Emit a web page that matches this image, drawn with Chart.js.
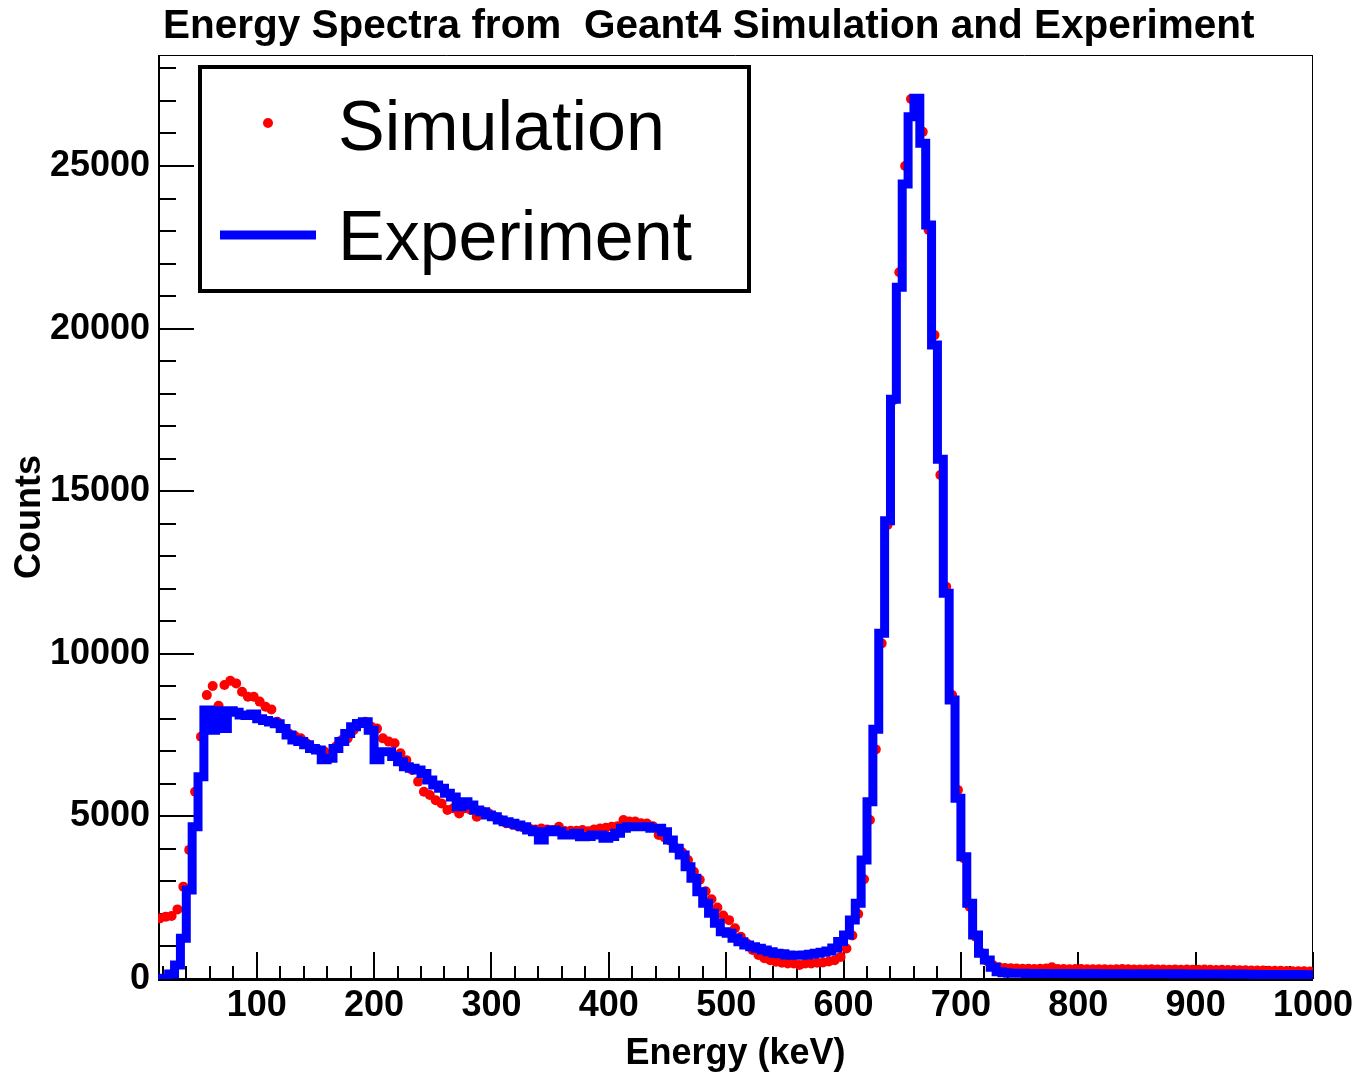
<!DOCTYPE html>
<html>
<head>
<meta charset="utf-8">
<script src="https://cdn.jsdelivr.net/npm/chart.js@4.4.1/dist/chart.umd.min.js"></script>
<style>
  html, body { margin: 0; padding: 0; background: #fff; }
  #wrap { width: 1356px; height: 1073px; }
</style>
</head>
<body>
<div id="wrap"><canvas id="myChart" width="1356" height="1073"></canvas></div>
<script>
// histogram binning (keV)
var binStart = 15;
var binWidth = 5;

// simulation counts, one per 5 keV bin starting at 15 keV
var simCounts = [
  1865, 1917, 1940, 2140, 2840, 3970, 5760, 7450, 8730, 9010,
  8400, 9040, 9170, 9090, 8835, 8680, 8680, 8530, 8370, 8290,
  7910, 7710, 7550, 7470, 7400, 7250, 7090, 7040, 7000, 6900,
  7150, 7350, 7400, 7650, 7850, 7910, 7760, 7700, 7400, 7300,
  7250, 6940, 6730, 6430, 6070, 5760, 5660, 5500, 5400, 5200,
  5250, 5090, 5250, 5200, 4990, 5150, 5100, 4990, 4900, 4790,
  4750, 4700, 4650, 4630, 4600, 4630, 4600, 4580, 4680, 4550,
  4560, 4560, 4580, 4540, 4600, 4630, 4650, 4680, 4700, 4890,
  4840, 4840, 4790, 4780, 4700, 4430, 4350, 4250, 4020, 3900,
  3660, 3300, 3050, 2700, 2450, 2200, 1950, 1810, 1560, 1300,
  1100, 890, 740, 640, 580, 530, 500, 480, 480, 430,
  480, 480, 500, 510, 540, 580, 680, 940, 1340, 2000,
  3065, 4890, 7060, 10320, 13960, 17800, 21730, 25000, 27060, 26900,
  26050, 23030, 19800, 15500, 12060, 8730, 5810, 3710, 2220, 1300,
  800, 550, 420, 360, 340, 330,
  320, 315, 318, 310, 312, 320, 360, 310, 305, 300,
  305, 310, 300, 298, 302, 300, 295, 300, 305, 298,
  295, 290, 295, 300, 292, 290, 288, 295, 285, 290,
  288, 285, 290, 282, 280, 285, 278, 275, 270, 268,
  265, 260, 262, 255, 250, 252, 245, 240, 238, 235,
  230
];

// experiment counts, same binning
var expCounts = [
  20, 20, 150, 430, 1250, 2740, 4680, 6220, 8270, 7650,
  8250, 7700, 8250, 8200, 8120, 8100, 8150, 8000, 7950, 7900,
  7850, 7700, 7500, 7350, 7300, 7200, 7090, 7040, 6740, 6790,
  7090, 7300, 7550, 7760, 7860, 7910, 7650, 6740, 6990, 6990,
  6840, 6680, 6530, 6480, 6430, 6320, 6120, 5965, 5863, 5709,
  5600, 5300, 5450, 5350, 5200, 5145, 5043, 4991, 4889, 4838,
  4786, 4735, 4684, 4581, 4530, 4274, 4530, 4581, 4530, 4428,
  4428, 4479, 4376, 4380, 4430, 4430, 4325, 4380, 4479, 4633,
  4684, 4684, 4684, 4684, 4633, 4633, 4530, 4274, 4018, 3813,
  3454, 3095, 2685, 2327, 2019, 1711, 1455, 1404, 1250, 1148,
  1045, 994, 943, 891, 840, 789, 780, 738, 730, 730,
  735, 760, 789, 820, 860, 950, 1150, 1353, 1814, 2327,
  3659, 5453, 7677, 10629, 14093, 17824, 21269, 24446, 26517, 27080,
  25697, 23185, 19495, 15980, 11859, 8579, 5555, 3761, 2327, 1353,
  789, 585, 359, 226, 190, 180,
  175, 175, 172, 170, 172, 170, 168, 170, 168, 165,
  168, 165, 165, 168, 165, 163, 165, 162, 165, 160,
  162, 160, 160, 162, 158, 160, 158, 155, 158, 155,
  155, 152, 155, 150, 152, 150, 150, 148, 150, 145,
  145, 140, 142, 140, 138, 140, 135, 138, 135, 132,
  130
];

var xTickLabels = [100, 200, 300, 400, 500, 600, 700, 800, 900, 1000];
var yTickLabels = [0, 5000, 10000, 15000, 20000, 25000];

var titleText = "Energy Spectra from  Geant4 Simulation and Experiment";

var simPoints = simCounts.map(function (v, i) {
  return { x: binStart + binWidth * (i + 0.5), y: v };
});
var expPoints = expCounts.map(function (v, i) {
  return { x: binStart + binWidth * i, y: v };
});
expPoints.push({ x: binStart + binWidth * expCounts.length, y: expCounts[expCounts.length - 1] });

var boldFont = { family: "'Liberation Sans', Arial, sans-serif", size: 36, weight: "bold" };

function plainLabel(v) { return String(v); }

// ROOT-like frame with ticks pointing inward
var framePlugin = {
  id: "rootFrame",
  beforeDatasetsDraw: function (chart) {
    var ctx = chart.ctx, a = chart.chartArea;
    var xs = chart.scales.x, ys = chart.scales.y;
    ctx.save();
    ctx.strokeStyle = "#000";
    ctx.lineWidth = 1;
    ctx.beginPath();
    ctx.moveTo(a.left, a.top + 0.5); ctx.lineTo(a.right, a.top + 0.5);
    ctx.moveTo(a.right - 0.5, a.top); ctx.lineTo(a.right - 0.5, a.bottom);
    ctx.stroke();

    ctx.lineWidth = 2;
    ctx.beginPath();
    for (var v = 0; v <= ys.max; v += 1000) {
      var y = Math.round(ys.getPixelForValue(v));
      var len = v % 5000 === 0 ? 36 : 18;
      ctx.moveTo(a.left, y); ctx.lineTo(a.left + len, y);
    }
    for (var e = 20; e <= 1000; e += 20) {
      var x = Math.round(xs.getPixelForValue(e));
      var l = e % 100 === 0 ? 27 : 13;
      ctx.moveTo(x, a.bottom); ctx.lineTo(x, a.bottom - l);
    }
    ctx.stroke();

    ctx.beginPath();
    ctx.moveTo(a.left + 1, a.top); ctx.lineTo(a.left + 1, a.bottom);
    ctx.stroke();
    ctx.lineWidth = 3;
    ctx.beginPath();
    ctx.moveTo(a.left, a.bottom + 0.5); ctx.lineTo(a.right, a.bottom + 0.5);
    ctx.stroke();
    ctx.restore();
  },
  afterDraw: function (chart) {
    var ctx = chart.ctx;
    var ds = chart.data.datasets;
    ctx.save();
    // title
    ctx.fillStyle = "#000";
    ctx.font = "bold 40.5px 'Liberation Sans', Arial, sans-serif";
    ctx.textAlign = "left";
    ctx.textBaseline = "alphabetic";
    ctx.fillText(titleText, 163, 38);

    // legend box
    ctx.fillStyle = "#fff";
    ctx.fillRect(200, 67, 549, 224);
    ctx.strokeStyle = "#000";
    ctx.lineWidth = 4;
    ctx.strokeRect(200, 67, 549, 224);

    ctx.fillStyle = ds[0].pointBackgroundColor;
    ctx.beginPath();
    ctx.arc(268, 123, 5, 0, Math.PI * 2);
    ctx.fill();

    ctx.strokeStyle = ds[1].borderColor;
    ctx.lineWidth = 9;
    ctx.beginPath();
    ctx.moveTo(220, 235); ctx.lineTo(316, 235);
    ctx.stroke();

    ctx.fillStyle = "#000";
    ctx.font = "70px 'Liberation Sans', Arial, sans-serif";
    ctx.fillText(ds[0].label, 338, 150);
    ctx.fillText(ds[1].label, 338, 260);
    ctx.restore();
  }
};

var ctx = document.getElementById("myChart").getContext("2d");
var myChart = new Chart(ctx, {
  type: "line",
  data: {
    datasets: [
      {
        label: "Simulation",
        data: simPoints,
        showLine: false,
        pointRadius: 5,
        pointBackgroundColor: "#ff0000",
        pointBorderWidth: 0,
        pointBorderColor: "#ff0000",
        order: 1
      },
      {
        label: "Experiment",
        data: expPoints,
        borderColor: "#0000ff",
        borderWidth: 9,
        stepped: true,
        pointRadius: 0,
        fill: false,
        borderJoinStyle: "miter",
        borderCapStyle: "butt",
        order: 0
      }
    ]
  },
  options: {
    responsive: false,
    devicePixelRatio: 1,
    animation: false,
    layout: { padding: { left: 0, top: 55, right: 43, bottom: 0 } },
    plugins: {
      legend: { display: false },
      tooltip: { enabled: false },
      title: { display: false }
    },
    scales: {
      x: {
        type: "linear",
        min: 15.9,
        max: 1000,
        afterBuildTicks: function (s) {
          s.ticks = xTickLabels.map(function (v) { return { value: v }; });
        },
        afterFit: function (s) {
          s.height = 94;
          s.paddingLeft = 0;
          s.paddingRight = 0;
        },
        grid: { display: false, drawTicks: false },
        border: { display: false },
        ticks: { font: boldFont, color: "#000", padding: 5, maxRotation: 0, autoSkip: false, callback: plainLabel },
        title: { display: true, text: "Energy (keV)", font: boldFont, color: "#000", padding: { top: 0, bottom: -3 } }
      },
      y: {
        type: "linear",
        min: 0,
        max: 28413,
        afterBuildTicks: function (s) {
          s.ticks = yTickLabels.map(function (v) { return { value: v }; });
        },
        afterFit: function (s) {
          s.width = 158;
          s.paddingTop = 0;
          s.paddingBottom = 0;
        },
        grid: { display: false, drawTicks: false },
        border: { display: false },
        ticks: { font: boldFont, color: "#000", padding: 8, callback: plainLabel },
        title: { display: true, text: "Counts", font: boldFont, color: "#000", padding: { top: 8, bottom: 0 } }
      }
    }
  },
  plugins: [framePlugin]
});
</script>
</body>
</html>
